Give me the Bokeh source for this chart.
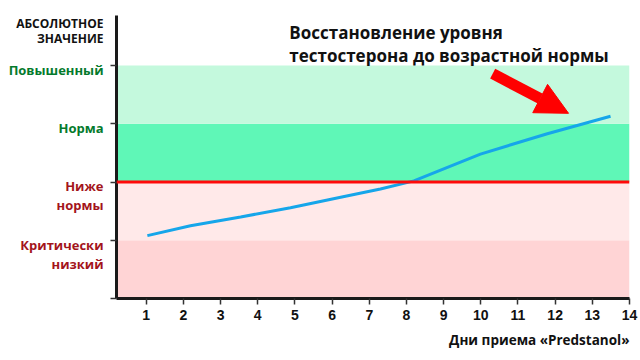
from bokeh.plotting import figure
from bokeh.layouts import row
from bokeh.models import Range1d, Label, Span, Arrow, NormalHead, FixedTicker, Title
from bokeh.core.properties import value
from bokeh.embed import file_html
from bokeh.resources import INLINE

# ---- data ----
days = [1.03, 2.19, 3.54, 4.88, 6.23, 7.30, 8.20, 9.99, 11.79, 13.49]
level = [1.08, 1.25, 1.40, 1.56, 1.74, 1.88, 2.02, 2.48, 2.83, 3.13]
x_ticks = list(range(1, 15))
level_values = [1, 2, 3, 4]
level_names = ["Критически\nнизкий", "Ниже\nнормы", "Норма", "Повышенный"]
band_bottom = [0, 1, 2, 3]
band_top = [1, 2, 3, 4]
band_colors = ["#ffd4d5", "#ffe9e9", "#5ff7b7", "#c4f9dd"]
label_colors = ["#a3141b", "#a3141b", "#047a2c", "#047a2c"]
norm_level = 2
title_lines = ["Восстановление уровня", "тестостерона до возрастной нормы"]
y_title_lines = ["АБСОЛЮТНОЕ", "ЗНАЧЕНИЕ"]
x_title = "Дни приема «Predstanol»"

X0, X1 = 0.2, 14.0
Y0, Y1 = 0.0, 4.86
yr = Range1d(Y0, Y1)

# ---- left panel with level names ----
lp = figure(width=106, height=360, output_backend="svg", toolbar_location=None,
            x_range=Range1d(0, 1), y_range=yr,
            min_border_left=0, min_border_right=0, min_border_top=15, min_border_bottom=62)
lp.axis.visible = False
lp.grid.visible = False
lp.outline_line_color = None

lx, ly, lt, lc = [], [], [], []
for v, name, c in zip(level_values, level_names, label_colors):
    for i, part in enumerate(name.split("\n")):
        lx.append(1)
        ly.append(v - 0.075 - i * 0.325)
        lt.append(part)
        lc.append(c)
lp.text(x=lx, y=ly, text=lt, text_color=lc, x_offset=-3,
        text_align="right", text_baseline="middle",
        text_font=value("Open Sans"), text_font_style="bold", text_font_size="13px")

lp.text(x=[1, 1], y=[4.72, 4.46], text=y_title_lines, text_color="#111111", x_offset=-3,
        text_align="right", text_baseline="middle",
        text_font=value("Open Sans"), text_font_style="bold", text_font_size="12px")

# ---- main chart ----
p = figure(width=534, height=360, output_backend="svg", toolbar_location=None,
           x_range=Range1d(X0, X1), y_range=yr,
           min_border_left=10, min_border_right=11, min_border_top=15, min_border_bottom=62)
p.outline_line_color = None
p.grid.visible = False

p.quad(left=[X0] * 4, right=[X1] * 4, bottom=band_bottom, top=band_top,
       fill_color=band_colors, line_color=None)

p.add_layout(Span(location=norm_level, dimension="width", line_color="#ff0a0a", line_width=3))

p.line(days, level, line_color="#16a6ea", line_width=3)

for ax in (p.xaxis[0], p.yaxis[0]):
    ax.axis_line_color = "#1a1a1a"
    ax.axis_line_width = 3
    ax.major_tick_out = 6
    ax.major_tick_in = 0
    ax.major_tick_line_color = "#333333"
    ax.major_tick_line_width = 1.5
    ax.minor_tick_line_color = None

p.xaxis.ticker = FixedTicker(ticks=x_ticks)
p.xaxis.major_label_text_font = "Liberation Sans"
p.xaxis.major_label_text_font_style = "bold"
p.xaxis.major_label_text_font_size = "14px"
p.xaxis.major_label_text_color = "#111111"
p.xaxis.major_label_standoff = 5

y_ticks = [0] + level_values
p.yaxis.ticker = FixedTicker(ticks=y_ticks)
p.yaxis.major_label_overrides = {t: "" for t in y_ticks}
p.yaxis.major_label_standoff = 0

for i, t in enumerate(title_lines):
    p.add_layout(Label(x=4.85, y=4.57 - i * 0.40, text=t,
                       text_align="left", text_baseline="middle",
                       text_font="Open Sans", text_font_style="bold",
                       text_font_size="17px", text_color="#111111"))

p.add_layout(Title(text=x_title, align="right", text_font="Open Sans",
                   text_font_style="bold", text_font_size="13.5px",
                   text_color="#111111", standoff=12), "below")

p.add_layout(Arrow(end=NormalHead(size=32, fill_color="#ff0000", line_color="#ff0000"),
                   x_start=10.32, y_start=3.86, x_end=12.36, y_end=3.18,
                   line_color="#ff0000", line_width=11))

layout = row(lp, p)
open("out.html", "w").write(file_html(layout, INLINE))
